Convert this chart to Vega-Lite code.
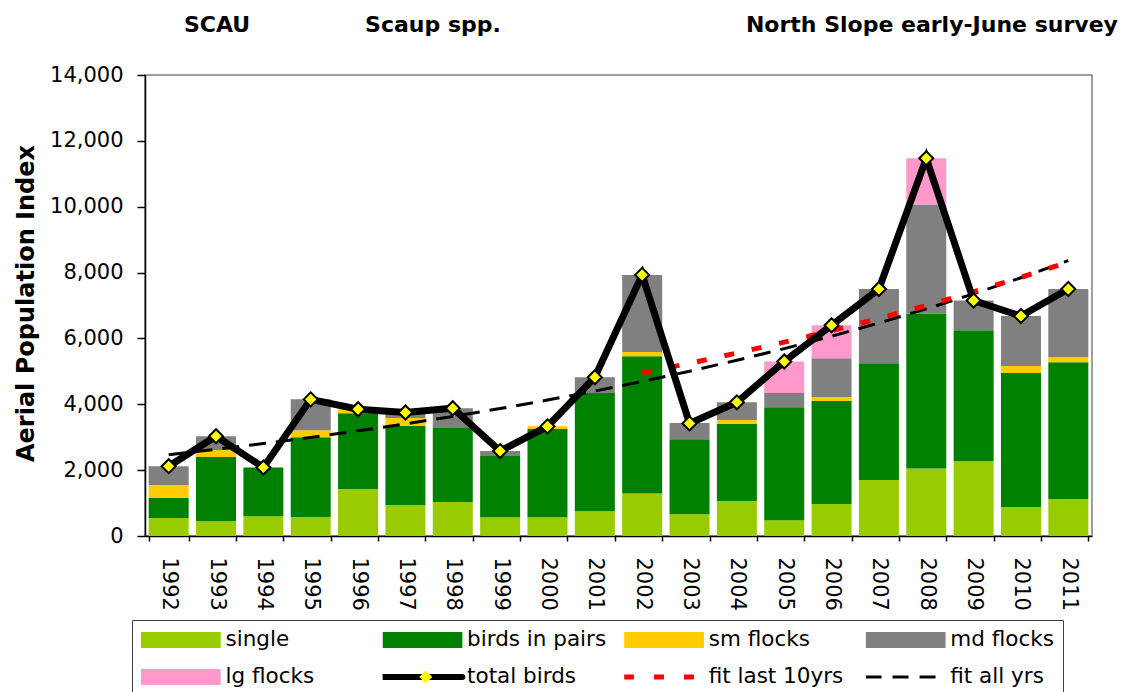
{
  "$schema": "https://vega.github.io/schema/vega-lite/v6.json",
  "autosize": {"type": "none"},
  "padding": {"left": 145, "top": 75, "right": 31, "bottom": 156},
  "width": 947,
  "height": 461,
  "background": "white",
  "title": {
    "text": "SCAU\u00a0\u00a0\u00a0\u00a0\u00a0\u00a0\u00a0\u00a0\u00a0\u00a0\u00a0\u00a0\u00a0\u00a0\u00a0Scaup spp.\u00a0\u00a0\u00a0\u00a0\u00a0\u00a0\u00a0\u00a0\u00a0\u00a0\u00a0\u00a0\u00a0\u00a0\u00a0\u00a0\u00a0\u00a0\u00a0\u00a0\u00a0\u00a0\u00a0\u00a0\u00a0\u00a0\u00a0\u00a0\u00a0\u00a0\u00a0\u00a0North Slope early-June survey",
    "anchor": "start",
    "frame": "group",
    "dx": 39,
    "offset": 10,
    "baseline": "alphabetic",
    "font": "DejaVu Sans",
    "fontSize": 22,
    "fontWeight": "bold",
    "color": "black"
  },
  "data": {
    "values": [
      {"year": 1992, "single": 550, "birds in pairs": 610, "sm flocks": 390, "md flocks": 570, "lg flocks": 0, "total": 2120, "fit_all": 2470, "fit_last": null},
      {"year": 1993, "single": 450, "birds in pairs": 1950, "sm flocks": 210, "md flocks": 420, "lg flocks": 0, "total": 3030, "fit_all": 2634, "fit_last": null},
      {"year": 1994, "single": 600, "birds in pairs": 1480, "sm flocks": 0, "md flocks": 0, "lg flocks": 0, "total": 2080, "fit_all": 2808, "fit_last": null},
      {"year": 1995, "single": 580, "birds in pairs": 2420, "sm flocks": 210, "md flocks": 940, "lg flocks": 0, "total": 4150, "fit_all": 2995, "fit_last": null},
      {"year": 1996, "single": 1430, "birds in pairs": 2300, "sm flocks": 120, "md flocks": 0, "lg flocks": 0, "total": 3850, "fit_all": 3193, "fit_last": null},
      {"year": 1997, "single": 940, "birds in pairs": 2410, "sm flocks": 230, "md flocks": 170, "lg flocks": 0, "total": 3750, "fit_all": 3405, "fit_last": null},
      {"year": 1998, "single": 1030, "birds in pairs": 2250, "sm flocks": 0, "md flocks": 600, "lg flocks": 0, "total": 3880, "fit_all": 3630, "fit_last": null},
      {"year": 1999, "single": 570, "birds in pairs": 1860, "sm flocks": 0, "md flocks": 150, "lg flocks": 0, "total": 2580, "fit_all": 3871, "fit_last": null},
      {"year": 2000, "single": 570, "birds in pairs": 2680, "sm flocks": 80, "md flocks": 0, "lg flocks": 0, "total": 3330, "fit_all": 4128, "fit_last": null},
      {"year": 2001, "single": 750, "birds in pairs": 3590, "sm flocks": 0, "md flocks": 480, "lg flocks": 0, "total": 4820, "fit_all": 4401, "fit_last": null},
      {"year": 2002, "single": 1290, "birds in pairs": 4170, "sm flocks": 130, "md flocks": 2340, "lg flocks": 0, "total": 7930, "fit_all": 4693, "fit_last": 4950},
      {"year": 2003, "single": 660, "birds in pairs": 2280, "sm flocks": 0, "md flocks": 490, "lg flocks": 0, "total": 3420, "fit_all": 5004, "fit_last": 5244},
      {"year": 2004, "single": 1060, "birds in pairs": 2340, "sm flocks": 120, "md flocks": 540, "lg flocks": 0, "total": 4060, "fit_all": 5336, "fit_last": 5556},
      {"year": 2005, "single": 480, "birds in pairs": 3430, "sm flocks": 0, "md flocks": 430, "lg flocks": 960, "total": 5300, "fit_all": 5690, "fit_last": 5886},
      {"year": 2006, "single": 970, "birds in pairs": 3130, "sm flocks": 120, "md flocks": 1180, "lg flocks": 1000, "total": 6400, "fit_all": 6067, "fit_last": 6236},
      {"year": 2007, "single": 1700, "birds in pairs": 3550, "sm flocks": 0, "md flocks": 2250, "lg flocks": 0, "total": 7500, "fit_all": 6469, "fit_last": 6606},
      {"year": 2008, "single": 2050, "birds in pairs": 4700, "sm flocks": 0, "md flocks": 3320, "lg flocks": 1400, "total": 11470, "fit_all": 6898, "fit_last": 6999},
      {"year": 2009, "single": 2270, "birds in pairs": 3980, "sm flocks": 0, "md flocks": 900, "lg flocks": 0, "total": 7150, "fit_all": 7355, "fit_last": 7414},
      {"year": 2010, "single": 880, "birds in pairs": 4070, "sm flocks": 210, "md flocks": 1520, "lg flocks": 0, "total": 6680, "fit_all": 7843, "fit_last": 7855},
      {"year": 2011, "single": 1120, "birds in pairs": 4160, "sm flocks": 150, "md flocks": 2070, "lg flocks": 0, "total": 7500, "fit_all": 8363, "fit_last": 8321}
    ]
  },
  "layer": [
    {
      "transform": [
        {"fold": ["single", "birds in pairs", "sm flocks", "md flocks", "lg flocks"], "as": ["series", "count"]},
        {"calculate": "indexof(['single', 'birds in pairs', 'sm flocks', 'md flocks', 'lg flocks'], datum.series)", "as": "stack_rank"}
      ],
      "mark": {"type": "bar"},
      "encoding": {
        "x": {"field": "year", "type": "ordinal", "title": null, "scale": {"paddingInner": 0.155, "paddingOuter": 0.0775}},
        "y": {"field": "count", "type": "quantitative", "stack": "zero", "title": "Aerial Population Index",
              "scale": {"domain": [0, 14000], "nice": false},
              "axis": {"values": [0, 2000, 4000, 6000, 8000, 10000, 12000, 14000], "labelExpr": "format(datum.value, ',')"}},
        "order": {"field": "stack_rank", "type": "quantitative", "sort": "ascending"},
        "color": {
          "field": "series", "type": "nominal",
          "scale": {
            "domain": ["single", "birds in pairs", "sm flocks", "md flocks", "lg flocks", "total birds", "fit last 10yrs", "fit all yrs"],
            "range": ["#99CC00", "#008000", "#FFCC00", "#808080", "#FF99CC", "#000000", "#FF0000", "#000000"]
          },
          "legend": {
            "title": null,
            "orient": "none",
            "direction": "horizontal",
            "legendX": -13,
            "legendY": 545,
            "columns": 4,
            "gridAlign": "all",
            "columnPadding": 17.6,
            "rowPadding": 15,
            "clipHeight": 22,
            "padding": 9,
            "symbolSize": 6400,
            "symbolStrokeWidth": 0,
            "symbolOffset": 29,
            "labelOffset": 34,
            "labelFont": "DejaVu Sans",
            "labelFontSize": 21.5,
            "labelColor": "black",
            "strokeColor": "#404040",
            "fillColor": "white",
            "encode": {
              "labels": {
                "update": {
                  "text": {"signal": "datum.value === 'md flocks' ? 'md flocks\u00a0\u00a0\u00a0\u00a0\u00a0' : datum.label"}
                }
              },
              "symbols": {
                "update": {
                  "shape": {"signal": "(datum.value === 'total birds' || datum.value === 'fit last 10yrs' || datum.value === 'fit all yrs') ? 'M-1,0H1' : 'M-1,-0.2H1V0.2H-1Z'"},
                  "fill": {"signal": "datum.value === 'single' ? '#99CC00' : datum.value === 'birds in pairs' ? '#008000' : datum.value === 'sm flocks' ? '#FFCC00' : datum.value === 'md flocks' ? '#808080' : datum.value === 'lg flocks' ? '#FF99CC' : 'transparent'"},
                  "stroke": {"signal": "datum.value === 'total birds' ? '#000000' : datum.value === 'fit last 10yrs' ? '#FF0000' : datum.value === 'fit all yrs' ? '#000000' : 'transparent'"},
                  "strokeWidth": {"signal": "datum.value === 'total birds' ? 6 : datum.value === 'fit last 10yrs' ? 5 : datum.value === 'fit all yrs' ? 3 : 0"},
                  "strokeDash": {"signal": "datum.value === 'fit last 10yrs' ? [10, 20] : datum.value === 'fit all yrs' ? [16, 11] : [1, 0]"},
                  "strokeCap": {"signal": "datum.value === 'total birds' ? 'round' : 'butt'"},
                  "size": {"value": 6400}
                }
              }
            }
          }
        }
      }
    },
    {
      "mark": {"type": "line", "color": "#000000", "strokeWidth": 3, "strokeDash": [17, 10]},
      "encoding": {
        "x": {"field": "year", "type": "ordinal", "title": null},
        "y": {"field": "fit_all", "type": "quantitative", "title": "Aerial Population Index"}
      }
    },
    {
      "mark": {"type": "line", "color": "#FF0000", "strokeWidth": 5, "strokeDash": [10, 18]},
      "encoding": {
        "x": {"field": "year", "type": "ordinal", "title": null},
        "y": {"field": "fit_last", "type": "quantitative", "title": "Aerial Population Index"}
      }
    },
    {
      "mark": {"type": "line", "color": "#000000", "strokeWidth": 7},
      "encoding": {
        "x": {"field": "year", "type": "ordinal", "title": null},
        "y": {"field": "total", "type": "quantitative", "title": "Aerial Population Index"}
      }
    },
    {
      "mark": {"type": "point", "filled": true, "fill": "#FFFF00", "stroke": "#000000", "strokeWidth": 2, "size": 196, "opacity": 1},
      "encoding": {
        "x": {"field": "year", "type": "ordinal", "title": null},
        "y": {"field": "total", "type": "quantitative", "title": "Aerial Population Index"},
        "shape": {
          "datum": "total birds", "type": "nominal",
          "scale": {"domain": ["total birds"], "range": ["diamond"]},
          "legend": {
            "title": null,
            "orient": "none",
            "legendX": 270,
            "legendY": 594,
            "clipHeight": 16,
            "padding": 0,
            "symbolOffset": 0,
            "symbolSize": 170,
            "symbolType": "diamond",
            "symbolFillColor": "#FFFF00",
            "symbolStrokeColor": "#000000",
            "symbolStrokeWidth": 1.5,
            "labelExpr": "''",
            "labelFontSize": 21.5,
            "encode": {
              "symbols": {"update": {"fill": {"value": "#FFFF00"}, "stroke": {"value": "#000000"}, "strokeWidth": {"value": 1.5}, "opacity": {"value": 1}}},
              "labels": {"update": {"opacity": {"value": 0}}}
            }
          }
        }
      }
    }
  ],
  "config": {
    "view": {"stroke": "#808080", "strokeWidth": 1.5},
    "axis": {"grid": false, "domainColor": "#000000", "tickColor": "#000000", "labelColor": "#000000", "titleColor": "#000000", "domainWidth": 1.5, "tickWidth": 1.5},
    "axisY": {
      "labelFont": "DejaVu Sans", "labelFontSize": 21, "tickSize": 8, "labelPadding": 14,
      "titleFont": "DejaVu Sans", "titleFontSize": 24, "titleFontWeight": "bold",
      "titleX": -112, "titleY": 228, "titleAngle": -90, "titleAlign": "center", "titleBaseline": "alphabetic"
    },
    "axisX": {
      "labelFont": "DejaVu Sans", "labelFontSize": 21, "labelAngle": 90, "tickBand": "extent", "tickSize": 5, "labelPadding": 16
    }
  }
}
